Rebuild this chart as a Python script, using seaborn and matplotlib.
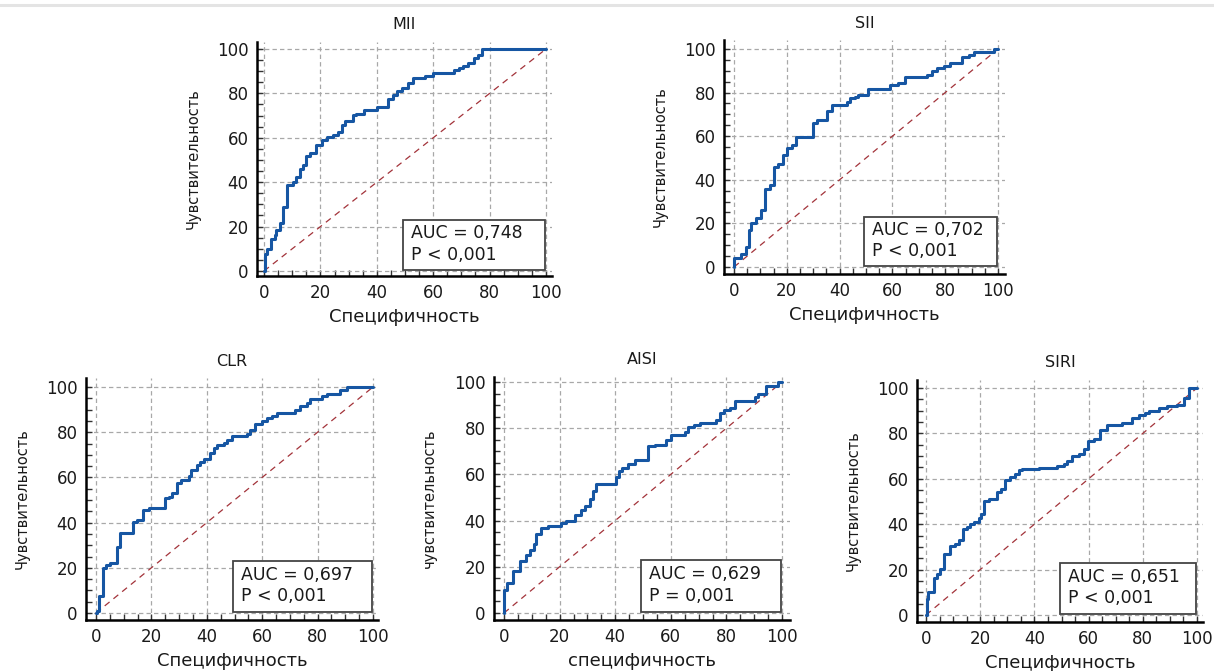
import matplotlib
matplotlib.use("Agg")
import matplotlib.pyplot as plt
from matplotlib.ticker import MultipleLocator
from matplotlib.lines import Line2D
from matplotlib.patches import Rectangle
import seaborn as sns
import pandas as pd

# ---------------- data ----------------
titles = ["MII", "SII", "CLR", "AISI", "SIRI"]
auc_text = ["AUC = 0,748\nP < 0,001", "AUC = 0,702\nP < 0,001", "AUC = 0,697\nP < 0,001",
            "AUC = 0,629\nP = 0,001", "AUC = 0,651\nP < 0,001"]
xlabels = ["Специфичность", "Специфичность", "Специфичность", "специфичность", "Специфичность"]
ylabels = ["Чувствительность", "Чувствительность", "Чувствительность", "чувствительность", "Чувствительность"]
ticks = [0, 20, 40, 60, 80, 100]

mii_x = [0, 0.3, 1.0, 2.6, 3.8, 4.4, 5.6, 6.8, 8.2, 10.3, 11.5, 12.7, 13.9, 15.0, 16.2, 18.6, 20.4,
         22.2, 24.5, 26.3, 27.5, 28.7, 31.4, 32.8, 35.5, 40.0, 44.0, 45.9, 47.0, 48.8, 51.2, 53.0,
         57.1, 60.0, 67.2, 69.0, 70.7, 72.5, 74.3, 76.0, 77.3, 100]
mii_y = [0, 7.8, 10.0, 14.6, 16.0, 18.3, 21.7, 28.9, 38.6, 40.0, 42.4, 46.0, 47.7, 52.0, 53.2, 56.7,
         59.2, 60.5, 61.2, 62.7, 65.7, 67.7, 70.2, 70.5, 72.5, 73.7, 77.7, 79.2, 81.0, 82.3, 84.5,
         86.8, 87.8, 89.3, 90.5, 91.3, 92.3, 93.5, 95.8, 97.3, 100, 100]

sii_x = [0, 0.0, 2.8, 4.7, 5.6, 6.6, 8.2, 10.4, 11.6, 13.5, 15.0, 16.7, 18.6, 20.1, 21.8, 23.3, 30.0,
         31.3, 35.4, 37.0, 42.7, 43.9, 45.8, 47.0, 50.9, 59.1, 62.3, 64.8, 73.0, 74.9, 76.8, 79.4,
         81.9, 86.3, 88.9, 90.8, 98.4, 100]
sii_y = [0, 4.3, 6.1, 9.2, 16.8, 20.2, 22.7, 26.0, 36.0, 37.5, 46.0, 47.2, 51.3, 54.4, 55.9, 59.7, 66.2,
         67.4, 71.5, 74.3, 75.8, 77.3, 78.1, 78.9, 81.5, 83.5, 84.2, 87.0, 88.0, 89.9, 91.1, 92.2,
         93.4, 96.2, 97.2, 98.8, 99.8, 100]

clr_x = [0, 0.4, 1.0, 2.5, 3.7, 5.2, 7.6, 8.8, 13.4, 14.8, 17.0, 19.0, 25.0, 26.2, 27.4, 29.2, 30.8,
         33.5, 34.3, 36.5, 37.7, 38.9, 41.3, 42.5, 43.7, 46.1, 47.3, 49.1, 54.5, 55.5, 57.5, 59.9,
         61.7, 63.5, 65.3, 72.0, 73.8, 76.2, 77.4, 81.6, 83.4, 88.2, 90.6, 100]
clr_y = [0, 0.8, 7.5, 19.7, 21.2, 22.3, 29.3, 35.2, 40.4, 41.1, 45.6, 46.3, 50.7, 51.5, 53.0, 57.4,
         58.9, 60.4, 63.3, 65.5, 67.0, 68.0, 70.7, 73.2, 74.4, 75.1, 76.6, 78.1, 79.1, 81.1, 83.6,
         84.8, 86.2, 87.0, 88.5, 89.9, 91.7, 92.9, 94.8, 95.9, 96.9, 98.8, 100, 100]

aisi_x = [0, 0.0, 1.1, 3.2, 5.6, 8.0, 9.5, 10.7, 11.6, 13.4, 15.8, 20.6, 22.4, 25.4, 27.8, 29.0, 30.8,
          32.0, 33.2, 40.4, 41.4, 42.6, 44.6, 47.0, 51.8, 54.2, 58.4, 60.2, 65.0, 66.2, 68.2, 70.4,
          76.4, 77.8, 79.0, 81.2, 83.0, 90.2, 91.4, 94.4, 98.6, 100]
aisi_y = [0, 10.1, 13.0, 18.0, 22.7, 25.0, 27.4, 29.9, 34.2, 36.8, 37.5, 39.0, 39.7, 42.3, 44.7, 46.2,
          49.5, 52.7, 55.8, 58.7, 61.6, 62.8, 64.5, 66.4, 72.2, 72.6, 75.0, 77.2, 78.4, 80.4, 81.5,
          82.3, 83.7, 86.6, 88.0, 88.7, 91.6, 93.4, 94.8, 98.1, 100, 100]

siri_x = [0, 0.3, 0.6, 2.8, 4.1, 5.3, 6.5, 9.0, 10.8, 12.0, 13.5, 15.1, 16.4, 17.6, 19.4, 20.3, 21.5,
          23.1, 26.2, 27.7, 29.3, 31.1, 33.0, 34.2, 35.4, 41.6, 48.3, 50.8, 52.0, 53.9, 56.3, 58.4,
          59.7, 61.9, 64.3, 66.8, 72.3, 76.0, 78.5, 80.9, 82.2, 85.9, 88.9, 92.6, 95.1, 96.9, 100]
siri_y = [0, 7.0, 10.0, 16.4, 17.9, 20.2, 26.7, 30.5, 31.1, 33.0, 37.8, 38.9, 39.9, 41.1, 42.8, 44.7,
          50.1, 51.3, 54.0, 55.4, 59.4, 60.9, 62.3, 63.8, 64.5, 64.8, 65.7, 66.7, 67.7, 69.9, 71.1,
          73.0, 76.5, 77.7, 81.4, 83.6, 84.8, 86.8, 88.0, 89.1, 89.7, 91.2, 92.1, 92.7, 95.6, 100, 100]

curves = [(mii_x, mii_y), (sii_x, sii_y), (clr_x, clr_y), (aisi_x, aisi_y), (siri_x, siri_y)]
diag = [0, 100]

# ---------------- layout (pixels in a 1214x671 canvas) ----------------
W, H = 1214, 671
# left, right, top, bottom spine pixels; pixel of data 0 / 100 on x and y
panels = [
    (257, 552, 42, 276, 264, 546, 271, 49),
    (724, 1005, 40, 274, 734, 998, 267, 49),
    (86, 378, 378, 620, 96, 373, 613, 387),
    (494, 790, 377, 620, 504, 782, 613, 382),
    (917, 1203, 380, 622, 926, 1197, 615, 388),
]

sns.set_style("white")
plt.rcParams["font.family"] = ["DejaVu Sans"]

fig = plt.figure(figsize=(W / 100, H / 100), dpi=100)
fig.add_artist(Line2D([0, 1], [1 - 5 / H, 1 - 5 / H], color="#e4e4e4", lw=2.2))

blue = "#1656a3"
for i, (L, R, T, B, x0, x100, y0, y100) in enumerate(panels):
    ax = fig.add_axes([L / W, 1 - B / H, (R - L) / W, (B - T) / H])
    sx = (x100 - x0) / 100
    sy = (y0 - y100) / 100
    ax.set_xlim((L - x0) / sx, (R - x0) / sx)
    ax.set_ylim((y0 - B) / sy, (y0 - T) / sy)

    ax.grid(True, which="major", color="#a8a8a8", linestyle=(0, (3.5, 2.5)), lw=0.9)
    ax.set_axisbelow(True)

    sns.lineplot(x=diag, y=diag, ax=ax, color="#a3333a", lw=0.9,
                 linestyle=(0, (5, 4)), estimator=None, sort=False)
    cx, cy = curves[i]
    df = pd.DataFrame({"x": cx, "y": cy})
    sns.lineplot(data=df, x="x", y="y", ax=ax, color=blue, lw=2.2,
                 estimator=None, sort=False, drawstyle="steps-post")

    ax.set_xticks(ticks)
    ax.set_yticks(ticks)
    ax.xaxis.set_minor_locator(MultipleLocator(5))
    ax.yaxis.set_minor_locator(MultipleLocator(5))
    ax.tick_params(which="both", direction="in", length=4, width=1, color="#333333",
                   bottom=True, left=True, top=False, right=False)
    ax.tick_params(which="major", labelsize=12, pad=6, labelcolor="#1a1a1a")

    for s in ["top", "right"]:
        ax.spines[s].set_visible(False)
    for s in ["left", "bottom"]:
        ax.spines[s].set_color("black")
        ax.spines[s].set_linewidth(1.8)

    ax.set_xlabel(xlabels[i], fontsize=13, labelpad=4, color="#1a1a1a")
    ax.set_ylabel(ylabels[i], fontsize=10.5, labelpad=12, color="#1a1a1a")
    ax.set_title(titles[i], fontsize=11.5, pad=9, color="#1a1a1a")

    ax.add_patch(Rectangle((49.3, 0.5), 50.3, 22.5, fill=True, facecolor="white",
                           edgecolor="#444444", lw=1.3, zorder=5))
    ax.text(52.3, 12.2, auc_text[i], fontsize=12.5, ha="left", va="center",
            linespacing=1.25, color="#1a1a1a", zorder=6)

fig.savefig("out.png", dpi=100)
